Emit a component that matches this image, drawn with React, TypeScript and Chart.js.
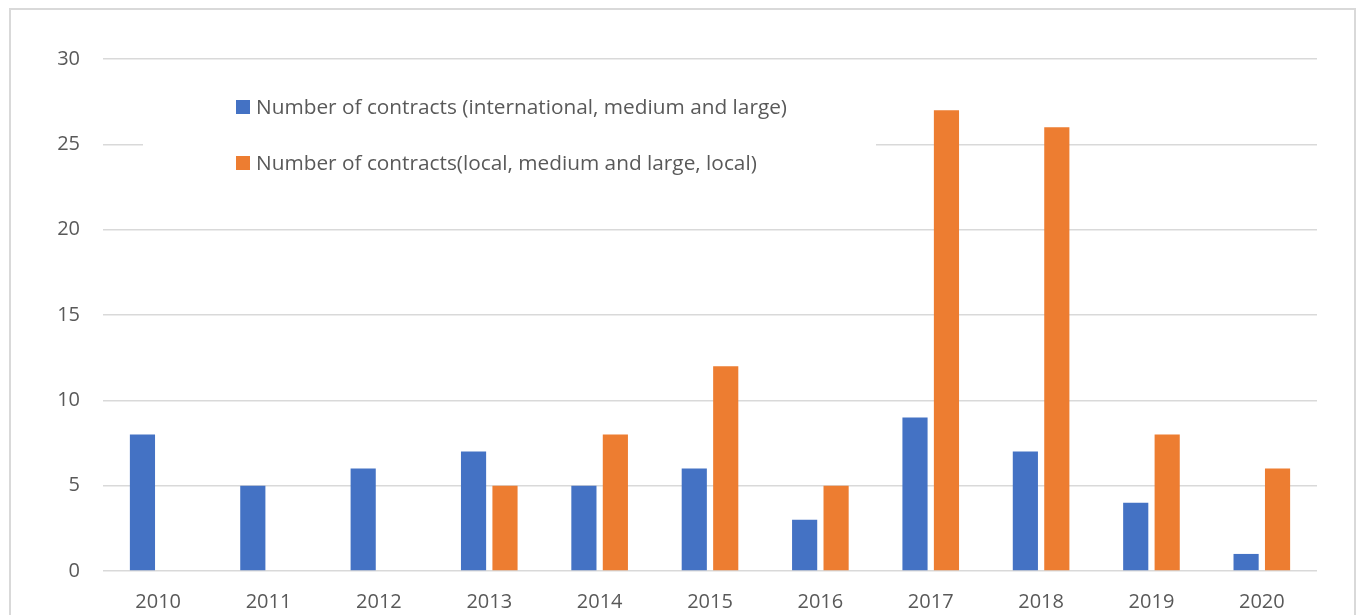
import React, { useEffect, useRef } from "react";
import { Chart, registerables } from "chart.js";

Chart.register(...registerables);

const years = ["2010", "2011", "2012", "2013", "2014", "2015", "2016", "2017", "2018", "2019", "2020"];
const internationalContracts = [8, 5, 6, 7, 5, 6, 3, 9, 7, 4, 1];
const localContracts = [null, null, null, 5, 8, 12, 5, 27, 26, 8, 6];
const seriesLabels = [
  "Number of contracts (international, medium and large)",
  "Number of contracts(local, medium and large, local)",
];
const seriesColors = ["#4472C4", "#ED7D31"];

const FONT = "'Open Sans', 'Liberation Sans', sans-serif";
const TEXT = "#595959";

const legendPlugin = {
  id: "insideLegend",
  afterDraw(chart: any) {
    const ctx = chart.ctx;
    ctx.save();
    ctx.fillStyle = "#ffffff";
    ctx.fillRect(143, 72, 733, 120);
    const rows = [107, 163];
    chart.data.datasets.forEach((ds: any, i: number) => {
      const y = rows[i];
      ctx.fillStyle = ds.backgroundColor;
      ctx.fillRect(236, y - 7, 14, 14);
      ctx.fillStyle = TEXT;
      ctx.font = `20.8px ${FONT}`;
      ctx.textBaseline = "middle";
      ctx.textAlign = "left";
      ctx.fillText(ds.label, 256, y + 1);
    });
    ctx.restore();
  },
};

export default function App() {
  const ref = useRef<HTMLCanvasElement>(null);
  useEffect(() => {
    document.body.style.overflow = "hidden";
    const chart = new Chart(ref.current!, {
      type: "bar",
      data: {
        labels: years,
        datasets: [
          {
            label: seriesLabels[0],
            data: internationalContracts,
            backgroundColor: seriesColors[0],
            categoryPercentage: 0.57,
            barPercentage: 0.8,
          },
          {
            label: seriesLabels[1],
            data: localContracts,
            backgroundColor: seriesColors[1],
            categoryPercentage: 0.57,
            barPercentage: 0.8,
          },
        ],
      },
      options: {
        animation: false,
        responsive: false,
        maintainAspectRatio: false,
        layout: { padding: { left: 0, right: 39, top: 59, bottom: 0 } },
        plugins: { legend: { display: false }, tooltip: { enabled: false } },
        scales: {
          x: {
            grid: { display: false, drawTicks: false },
            border: { display: false },
            ticks: { color: TEXT, font: { family: FONT, size: 20 }, padding: 19, maxRotation: 0 },
            afterFit: (s: any) => {
              s.height = 44;
            },
          },
          y: {
            min: 0,
            max: 30,
            ticks: { stepSize: 5, color: TEXT, font: { family: FONT, size: 20 }, padding: 23 },
            grid: { color: "#d9d9d9", lineWidth: 1.5, drawTicks: false },
            border: { display: false },
            afterFit: (s: any) => {
              s.width = 103;
            },
          },
        },
      },
      plugins: [legendPlugin],
    });
    return () => chart.destroy();
  }, []);
  return (
    <div style={{ position: "absolute", left: 0, top: 0, width: 1356, height: 615, overflow: "hidden", background: "#fff" }}>
      <div
        style={{
          position: "absolute",
          left: 9,
          top: 8,
          width: 1343,
          height: 700,
          border: "2px solid #d9d9d9",
        }}
      />
      <canvas ref={ref} width={1356} height={615} style={{ position: "absolute", left: 0, top: 0 }} />
    </div>
  );
}
